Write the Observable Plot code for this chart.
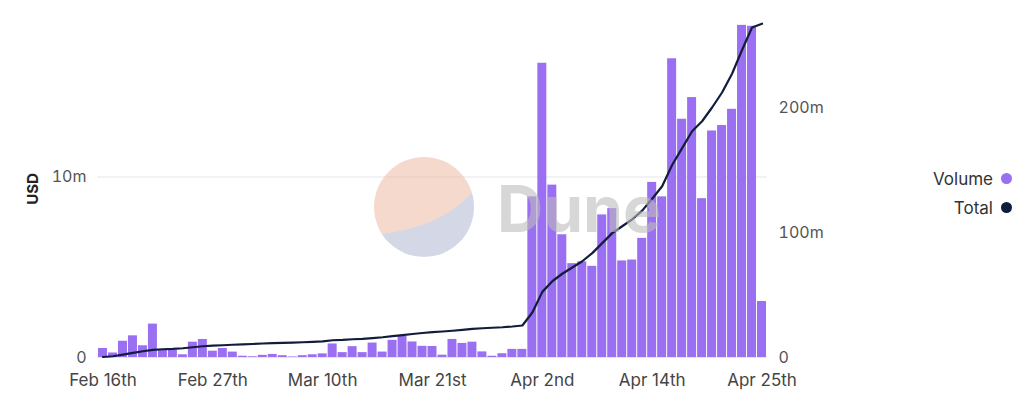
<!DOCTYPE html>
<html><head><meta charset="utf-8">
<script src="https://cdn.jsdelivr.net/npm/d3@7"></script>
<script src="https://cdn.jsdelivr.net/npm/@observablehq/plot@0.6"></script>
<style>
body{margin:0;background:#fff;font-family:Inter,"Noto Sans",sans-serif;}
#wrap{position:relative;width:1024px;height:394px;overflow:hidden;}
#wm{position:absolute;left:0;top:0;pointer-events:none;}
#legend{position:absolute;left:860px;top:164px;width:152px;font-size:17px;color:#333;}
#legend .row{display:flex;justify-content:flex-end;align-items:center;height:29px;}
#legend .dot{display:inline-block;width:11px;height:11px;border-radius:50%;margin-left:8px;}
g[aria-label="y-axis label"] text{font-weight:700;fill:#222;font-size:15px;}
g[aria-label="x-axis tick label"] text{font-size:17px;}
</style></head>
<body><div id="wrap"><div id="chart"></div>
<svg id="wm" width="1024" height="394">
  <defs><clipPath id="cc"><circle cx="424" cy="207" r="50"/></clipPath></defs>
  <g clip-path="url(#cc)" opacity="0.5">
    <rect x="370" y="150" width="110" height="115" fill="#eeb49b"/>
    <path d="M370 238 C400 228,440 232,480 184 L480 265 L370 265 Z" fill="#aab0cb"/>
  </g>
  <text x="497" y="232" font-size="64" font-weight="700" fill="#bdbdbd" opacity="0.6" font-family="Inter,sans-serif">Dune</text>
</svg>
<div id="legend">
  <div class="row">Volume<span class="dot" style="background:#9a6ff2"></span></div>
  <div class="row">Total<span class="dot" style="background:#0f1c3a"></span></div>
</div></div>
<script>
const dates = [
"2024-02-16","2024-02-17","2024-02-18","2024-02-19","2024-02-20","2024-02-21","2024-02-22","2024-02-23","2024-02-24","2024-02-25",
"2024-02-26","2024-02-27","2024-02-28","2024-02-29","2024-03-01","2024-03-02","2024-03-04","2024-03-05","2024-03-06","2024-03-07",
"2024-03-08","2024-03-09","2024-03-10","2024-03-11","2024-03-12","2024-03-13","2024-03-14","2024-03-15","2024-03-16","2024-03-17",
"2024-03-18","2024-03-19","2024-03-20","2024-03-21","2024-03-22","2024-03-23","2024-03-24","2024-03-25","2024-03-26","2024-03-27",
"2024-03-29","2024-03-30","2024-03-31","2024-04-01","2024-04-02","2024-04-03","2024-04-04","2024-04-05","2024-04-06","2024-04-08",
"2024-04-09","2024-04-10","2024-04-11","2024-04-12","2024-04-13","2024-04-14","2024-04-15","2024-04-16","2024-04-17","2024-04-18",
"2024-04-19","2024-04-20","2024-04-21","2024-04-22","2024-04-23","2024-04-24","2024-04-25"];
// daily volume, million USD
const volume = [
0.5,0.25,0.9,1.2,0.65,1.85,0.4,0.4,0.15,0.85,
1.0,0.35,0.5,0.3,0.07,0.04,0.12,0.17,0.1,0.03,
0.1,0.15,0.2,0.75,0.27,0.6,0.27,0.8,0.3,0.95,
1.17,0.86,0.62,0.61,0.13,1.0,0.78,0.85,0.31,0.07,
0.21,0.45,0.45,8.9,16.3,9.55,6.8,5.2,5.3,5.05,
7.9,8.25,5.35,5.4,6.6,9.7,8.9,16.55,13.2,14.4,
8.8,12.55,12.85,13.75,18.4,18.35,3.1];
// running total, million USD
const total = [
0.4,1.0,2.3,3.7,5.0,6.1,6.6,6.9,7.4,8.2,
9.0,9.5,9.8,10.2,10.5,10.8,11.2,11.5,11.7,11.9,
12.2,12.5,12.9,13.8,14.1,14.6,14.9,15.5,16.2,17.1,
17.9,18.8,19.6,20.3,20.8,21.4,22.1,22.9,23.4,23.8,
24.2,24.8,25.6,36,52.5,61,67,72,77,83.5,
91.5,99.5,105,110.5,117.5,127,137,154,167.5,181,
189,200,212,227,246,264,267];
const tickDates = ["2024-02-16","2024-02-27","2024-03-10","2024-03-21","2024-04-02","2024-04-14","2024-04-25"];
const tickLabels = ["Feb 16th","Feb 27th","Mar 10th","Mar 21st","Apr 2nd","Apr 14th","Apr 25th"];
const leftTicks = [0, 10];
const rightTicks = [0, 100, 200];
const leftMax = 18.67, rightMax = 269.6;
const k = leftMax / rightMax;
const rows = dates.map((d, i) => ({date: d, volume: volume[i], total: total[i]}));
const fmt = v => v === 0 ? "0" : v + "m";
const chart = Plot.plot({
  width: 1024, height: 394,
  marginLeft: 97, marginRight: 257, marginTop: 20, marginBottom: 37,
  style: {fontFamily: 'Inter,"Noto Sans",sans-serif', fontSize: "16px", color: "#555", background: "transparent"},
  x: {type: "band", domain: dates, padding: 0.1, label: null},
  y: {domain: [0, leftMax], label: null},
  marks: [
    Plot.gridY(leftTicks, {stroke: "#e6e6e6", strokeOpacity: 1}),
    Plot.barY(rows, {x: "date", y: "volume", fill: "#9a6ff2"}),
    Plot.line(rows, {x: "date", y: d => d.total * k, stroke: "#121c3c", strokeWidth: 2.2}),
    Plot.axisX(tickDates, {tickSize: 0, tickPadding: 16, fill: "#444", tickFormat: d => tickLabels[tickDates.indexOf(d)]}),
    Plot.axisY(leftTicks, {anchor: "left", tickSize: 0, tickPadding: 11, tickFormat: fmt, label: "USD", labelAnchor: "center", labelArrow: "none", labelOffset: 70}),
    Plot.axisY(rightTicks.map(v => v * k), {anchor: "right", tickSize: 0, tickPadding: 11, label: null, tickFormat: d => fmt(Math.round(d / k))})
  ]
});
document.getElementById("chart").append(chart);
</script></body></html>
